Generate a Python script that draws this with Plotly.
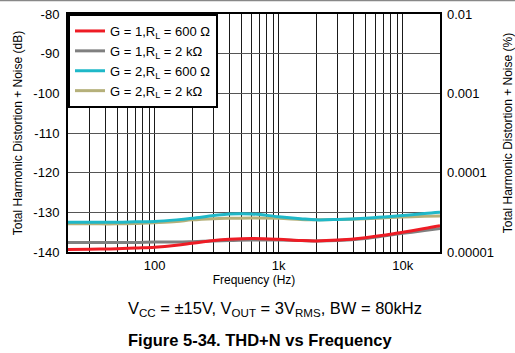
import plotly.graph_objects as go
import numpy as np

freq = [20, 30, 50, 70, 100, 150, 200, 300, 400, 600, 1000, 1500, 2000, 3000, 5000, 7000, 10000, 15000, 20000]
g1_600 = [-139.4, -139.3, -139.2, -139.0, -138.8, -138.3, -137.8, -137.1, -136.8, -136.6, -136.8, -137.1, -137.2, -137.0, -136.4, -135.8, -135.0, -134.1, -133.4]
g1_2k = [-137.6, -137.6, -137.6, -137.6, -137.5, -137.5, -137.4, -137.2, -137.1, -137.0, -137.0, -137.1, -137.2, -137.1, -136.6, -136.0, -135.3, -134.6, -134.1]
g2_600 = [-132.5, -132.5, -132.5, -132.4, -132.3, -131.9, -131.5, -130.8, -130.4, -130.4, -131.1, -131.6, -131.9, -131.8, -131.5, -131.2, -130.8, -130.3, -130.0]
g2_2k = [-132.9, -132.9, -132.9, -132.8, -132.6, -132.3, -131.9, -131.6, -131.5, -131.4, -131.5, -131.8, -131.9, -131.8, -131.6, -131.4, -131.2, -131.0, -130.9]

series_names = ["G = 1,R<sub>L</sub> = 600 Ω", "G = 1,R<sub>L</sub> = 2 kΩ",
                "G = 2,R<sub>L</sub> = 600 Ω", "G = 2,R<sub>L</sub> = 2 kΩ"]
series_vals = [g1_600, g1_2k, g2_600, g2_2k]
series_colors = ["#ee1c25", "#808080", "#1fb8c8", "#b5b07a"]

x_grid = [20, 30, 40, 50, 60, 70, 80, 90, 100, 200, 300, 400, 500, 600, 700, 800, 900,
          1000, 2000, 3000, 4000, 5000, 6000, 7000, 8000, 9000, 10000, 20000]
x_labels = {100: "100", 1000: "1k", 10000: "10k"}
y_ticks = [-140, -130, -120, -110, -100, -90, -80]
y2_ticks = [0.00001, 0.0001, 0.001, 0.01]
y2_labels = ["0.00001", "0.0001", "0.001", "0.01"]

fig = go.Figure()
order = [3, 2, 1, 0]
for i in order:
    fig.add_trace(go.Scatter(x=freq, y=series_vals[i], mode="lines", name=series_names[i],
                             line=dict(color=series_colors[i], width=3, shape="spline"),
                             legendrank=i))
fig.add_trace(go.Scatter(x=[100], y=[0.001], yaxis="y2", mode="markers",
                         marker=dict(opacity=0), showlegend=False, hoverinfo="skip"))

font = "Liberation Sans, Arial, sans-serif"
fig.update_layout(
    width=515, height=353,
    margin=dict(l=68, r=75, t=14, b=101),
    paper_bgcolor="white", plot_bgcolor="white",
    font=dict(family=font, size=13, color="black"),
    showlegend=True,
    legend=dict(x=0, y=1, xanchor="left", yanchor="top", bgcolor="white",
                bordercolor="black", borderwidth=2, font=dict(size=13),
                tracegroupgap=0, itemwidth=30),
    xaxis=dict(type="log", range=[np.log10(20), np.log10(20000)], automargin=False,
               tickvals=x_grid, ticktext=[x_labels.get(v, "") for v in x_grid],
               ticks="", showgrid=True, gridcolor="#1a1a1a", gridwidth=1,
               showline=True, linecolor="black", linewidth=2, mirror=True,
               title=dict(text="Frequency (Hz)", font=dict(size=12), standoff=4),
               tickfont=dict(size=13), zeroline=False),
    yaxis=dict(range=[-140, -80], tickvals=y_ticks, ticktext=[str(v) for v in y_ticks],
               automargin=False,
               showgrid=True, gridcolor="#555555", gridwidth=1,
               showline=True, linecolor="black", linewidth=2, mirror=True,
               ticks="", zeroline=False, tickfont=dict(size=13), ticklabelstandoff=4,
               title=dict(text="Total Harmonic Distortion + Noise (dB)", font=dict(size=12), standoff=8)),
    yaxis2=dict(type="log", range=[-5, -2], overlaying="y", side="right", automargin=False,
                tickvals=y2_ticks, ticktext=y2_labels, showgrid=False, ticks="",
                tickfont=dict(size=13), zeroline=False, showline=False, ticklabelstandoff=6,
                title=dict(text="Total Harmonic Distortion + Noise (%)", font=dict(size=12), standoff=10)),
)

fig.add_annotation(text="V<sub>CC</sub> = ±15V, V<sub>OUT</sub> = 3V<sub>RMS</sub>, BW = 80kHz",
                   xref="paper", yref="paper", x=0.156, y=-0.19, xanchor="left", yanchor="top",
                   showarrow=False, font=dict(size=16.5))
fig.add_annotation(text="<b>Figure 5-34. THD+N vs Frequency</b>",
                   xref="paper", yref="paper", x=0.156, y=-0.325, xanchor="left", yanchor="top",
                   showarrow=False, font=dict(size=16.5))
fig.add_shape(type="line", xref="paper", yref="paper", x0=-1, x1=2, y0=1.058, y1=1.058,
              line=dict(color="#888888", width=2))

fig.write_html("out.html")
